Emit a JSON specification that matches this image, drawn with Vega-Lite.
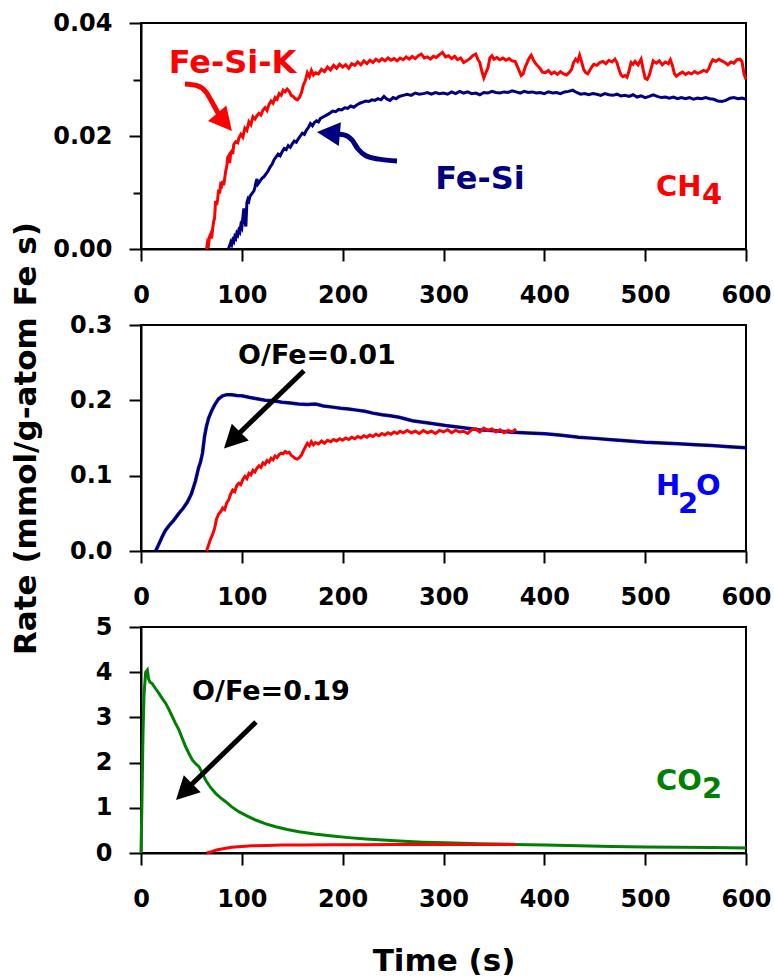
{
"$schema": "https://vega.github.io/schema/vega-lite/v6.json",
"background": "white",
"padding": {"left": 9, "top": 10, "right": 2, "bottom": 0},
"bounds": "flush",
"spacing": 76,
"config": {
  "font": "DejaVu Sans",
  "view": {"stroke": "black", "strokeWidth": 2},
  "axis": {"labelFont": "DejaVu Sans", "labelFontSize": 24, "labelFontWeight": "bold", "labelColor": "black",
           "titleFont": "DejaVu Sans", "titleFontSize": 31, "titleFontWeight": "bold", "titleColor": "black",
           "domainColor": "black", "domainWidth": 2, "tickColor": "black", "tickWidth": 2, "tickSize": 12, "grid": false},
  "axisX": {"labelPadding": 22, "labelFlush": false, "labelOverlap": false},
  "axisY": {"labelPadding": 17, "labelOverlap": false}
},
"datasets": {
  "ch4": [
    {"s":"FeSiK","t":65,"rate":0},{"s":"FeSiK","t":66,"rate":0.0012},{"s":"FeSiK","t":67,"rate":0.0008},{"s":"FeSiK","t":68,"rate":0.0022},{"s":"FeSiK","t":69,"rate":0.0026},{"s":"FeSiK","t":70,"rate":0.0019},{"s":"FeSiK","t":71,"rate":0.0035},{"s":"FeSiK","t":72,"rate":0.0048},{"s":"FeSiK","t":73,"rate":0.0055},{"s":"FeSiK","t":74,"rate":0.0085},{"s":"FeSiK","t":75,"rate":0.0078},{"s":"FeSiK","t":76,"rate":0.0088},{"s":"FeSiK","t":77,"rate":0.0105},{"s":"FeSiK","t":78,"rate":0.0098},{"s":"FeSiK","t":79,"rate":0.0114},{"s":"FeSiK","t":80,"rate":0.0112},{"s":"FeSiK","t":81,"rate":0.012},{"s":"FeSiK","t":82,"rate":0.0113},{"s":"FeSiK","t":83,"rate":0.0125},{"s":"FeSiK","t":84,"rate":0.0138},{"s":"FeSiK","t":85,"rate":0.0145},{"s":"FeSiK","t":86,"rate":0.0162},{"s":"FeSiK","t":87,"rate":0.0165},{"s":"FeSiK","t":88,"rate":0.0152},{"s":"FeSiK","t":89,"rate":0.017},{"s":"FeSiK","t":90,"rate":0.0173},{"s":"FeSiK","t":91,"rate":0.0168},{"s":"FeSiK","t":92,"rate":0.0185},{"s":"FeSiK","t":94,"rate":0.019},{"s":"FeSiK","t":96,"rate":0.0188},{"s":"FeSiK","t":97,"rate":0.0196},{"s":"FeSiK","t":99,"rate":0.0203},{"s":"FeSiK","t":101,"rate":0.0198},{"s":"FeSiK","t":103,"rate":0.0214},{"s":"FeSiK","t":105,"rate":0.021},{"s":"FeSiK","t":107,"rate":0.0225},{"s":"FeSiK","t":109,"rate":0.022},{"s":"FeSiK","t":111,"rate":0.0234},{"s":"FeSiK","t":113,"rate":0.023},{"s":"FeSiK","t":115,"rate":0.0236},{"s":"FeSiK","t":117,"rate":0.024},{"s":"FeSiK","t":119,"rate":0.0237},{"s":"FeSiK","t":121,"rate":0.0246},{"s":"FeSiK","t":123,"rate":0.025},{"s":"FeSiK","t":125,"rate":0.0245},{"s":"FeSiK","t":127,"rate":0.0256},{"s":"FeSiK","t":129,"rate":0.0262},{"s":"FeSiK","t":131,"rate":0.0258},{"s":"FeSiK","t":133,"rate":0.0268},{"s":"FeSiK","t":135,"rate":0.0265},{"s":"FeSiK","t":137,"rate":0.0275},{"s":"FeSiK","t":139,"rate":0.0272},{"s":"FeSiK","t":141,"rate":0.0281},{"s":"FeSiK","t":143,"rate":0.0278},{"s":"FeSiK","t":145,"rate":0.0283},{"s":"FeSiK","t":147,"rate":0.0279},{"s":"FeSiK","t":149,"rate":0.0272},{"s":"FeSiK","t":151,"rate":0.027},{"s":"FeSiK","t":153,"rate":0.0266},{"s":"FeSiK","t":155,"rate":0.0264},{"s":"FeSiK","t":157,"rate":0.0268},{"s":"FeSiK","t":159,"rate":0.0276},{"s":"FeSiK","t":161,"rate":0.029},{"s":"FeSiK","t":163,"rate":0.0298},{"s":"FeSiK","t":165,"rate":0.0312},{"s":"FeSiK","t":167,"rate":0.0305},{"s":"FeSiK","t":169,"rate":0.0316},{"s":"FeSiK","t":171,"rate":0.0308},{"s":"FeSiK","t":173,"rate":0.0312},{"s":"FeSiK","t":176,"rate":0.031},{"s":"FeSiK","t":179,"rate":0.0318},{"s":"FeSiK","t":182,"rate":0.0314},{"s":"FeSiK","t":185,"rate":0.0322},{"s":"FeSiK","t":188,"rate":0.0317},{"s":"FeSiK","t":191,"rate":0.0325},{"s":"FeSiK","t":194,"rate":0.032},{"s":"FeSiK","t":197,"rate":0.0327},{"s":"FeSiK","t":200,"rate":0.0322},{"s":"FeSiK","t":203,"rate":0.0326},{"s":"FeSiK","t":206,"rate":0.032},{"s":"FeSiK","t":209,"rate":0.0328},{"s":"FeSiK","t":212,"rate":0.0325},{"s":"FeSiK","t":215,"rate":0.0331},{"s":"FeSiK","t":218,"rate":0.0326},{"s":"FeSiK","t":221,"rate":0.0333},{"s":"FeSiK","t":224,"rate":0.0328},{"s":"FeSiK","t":227,"rate":0.0334},{"s":"FeSiK","t":230,"rate":0.033},{"s":"FeSiK","t":233,"rate":0.0336},{"s":"FeSiK","t":236,"rate":0.0332},{"s":"FeSiK","t":239,"rate":0.0337},{"s":"FeSiK","t":242,"rate":0.0333},{"s":"FeSiK","t":245,"rate":0.0338},{"s":"FeSiK","t":248,"rate":0.0334},{"s":"FeSiK","t":251,"rate":0.0337},{"s":"FeSiK","t":254,"rate":0.0333},{"s":"FeSiK","t":257,"rate":0.0338},{"s":"FeSiK","t":260,"rate":0.0335},{"s":"FeSiK","t":263,"rate":0.034},{"s":"FeSiK","t":266,"rate":0.0336},{"s":"FeSiK","t":269,"rate":0.0341},{"s":"FeSiK","t":272,"rate":0.0337},{"s":"FeSiK","t":275,"rate":0.0342},{"s":"FeSiK","t":278,"rate":0.0345},{"s":"FeSiK","t":281,"rate":0.0338},{"s":"FeSiK","t":284,"rate":0.034},{"s":"FeSiK","t":287,"rate":0.0336},{"s":"FeSiK","t":290,"rate":0.0341},{"s":"FeSiK","t":293,"rate":0.0339},{"s":"FeSiK","t":296,"rate":0.0344},{"s":"FeSiK","t":299,"rate":0.0348},{"s":"FeSiK","t":302,"rate":0.034},{"s":"FeSiK","t":305,"rate":0.0342},{"s":"FeSiK","t":308,"rate":0.0337},{"s":"FeSiK","t":311,"rate":0.0341},{"s":"FeSiK","t":314,"rate":0.0335},{"s":"FeSiK","t":317,"rate":0.0338},{"s":"FeSiK","t":320,"rate":0.033},{"s":"FeSiK","t":323,"rate":0.0333},{"s":"FeSiK","t":326,"rate":0.0337},{"s":"FeSiK","t":329,"rate":0.0342},{"s":"FeSiK","t":332,"rate":0.0345},{"s":"FeSiK","t":334,"rate":0.0336},{"s":"FeSiK","t":336,"rate":0.033},{"s":"FeSiK","t":338,"rate":0.0315},{"s":"FeSiK","t":340,"rate":0.0303},{"s":"FeSiK","t":342,"rate":0.0312},{"s":"FeSiK","t":344,"rate":0.032},{"s":"FeSiK","t":346,"rate":0.0338},{"s":"FeSiK","t":348,"rate":0.0342},{"s":"FeSiK","t":350,"rate":0.0336},{"s":"FeSiK","t":353,"rate":0.0339},{"s":"FeSiK","t":356,"rate":0.0335},{"s":"FeSiK","t":359,"rate":0.0338},{"s":"FeSiK","t":362,"rate":0.0334},{"s":"FeSiK","t":365,"rate":0.0337},{"s":"FeSiK","t":368,"rate":0.0333},{"s":"FeSiK","t":371,"rate":0.0332},{"s":"FeSiK","t":374,"rate":0.032},{"s":"FeSiK","t":377,"rate":0.0307},{"s":"FeSiK","t":379,"rate":0.031},{"s":"FeSiK","t":381,"rate":0.0322},{"s":"FeSiK","t":383,"rate":0.033},{"s":"FeSiK","t":385,"rate":0.0338},{"s":"FeSiK","t":387,"rate":0.0343},{"s":"FeSiK","t":389,"rate":0.0335},{"s":"FeSiK","t":391,"rate":0.0329},{"s":"FeSiK","t":393,"rate":0.0325},{"s":"FeSiK","t":396,"rate":0.0319},{"s":"FeSiK","t":398,"rate":0.0313},{"s":"FeSiK","t":401,"rate":0.0312},{"s":"FeSiK","t":404,"rate":0.0316},{"s":"FeSiK","t":407,"rate":0.031},{"s":"FeSiK","t":410,"rate":0.0313},{"s":"FeSiK","t":413,"rate":0.0309},{"s":"FeSiK","t":416,"rate":0.0314},{"s":"FeSiK","t":419,"rate":0.031},{"s":"FeSiK","t":422,"rate":0.0308},{"s":"FeSiK","t":425,"rate":0.0313},{"s":"FeSiK","t":427,"rate":0.0318},{"s":"FeSiK","t":429,"rate":0.033},{"s":"FeSiK","t":431,"rate":0.0336},{"s":"FeSiK","t":433,"rate":0.0332},{"s":"FeSiK","t":435,"rate":0.0343},{"s":"FeSiK","t":437,"rate":0.0331},{"s":"FeSiK","t":439,"rate":0.0318},{"s":"FeSiK","t":441,"rate":0.0312},{"s":"FeSiK","t":443,"rate":0.031},{"s":"FeSiK","t":445,"rate":0.0316},{"s":"FeSiK","t":447,"rate":0.0322},{"s":"FeSiK","t":449,"rate":0.0327},{"s":"FeSiK","t":452,"rate":0.0325},{"s":"FeSiK","t":455,"rate":0.033},{"s":"FeSiK","t":458,"rate":0.0332},{"s":"FeSiK","t":461,"rate":0.0328},{"s":"FeSiK","t":464,"rate":0.0334},{"s":"FeSiK","t":467,"rate":0.0331},{"s":"FeSiK","t":470,"rate":0.0336},{"s":"FeSiK","t":472,"rate":0.033},{"s":"FeSiK","t":474,"rate":0.0318},{"s":"FeSiK","t":476,"rate":0.0308},{"s":"FeSiK","t":478,"rate":0.0305},{"s":"FeSiK","t":480,"rate":0.0307},{"s":"FeSiK","t":482,"rate":0.0304},{"s":"FeSiK","t":484,"rate":0.0315},{"s":"FeSiK","t":486,"rate":0.033},{"s":"FeSiK","t":488,"rate":0.0327},{"s":"FeSiK","t":490,"rate":0.0332},{"s":"FeSiK","t":493,"rate":0.0326},{"s":"FeSiK","t":496,"rate":0.0336},{"s":"FeSiK","t":498,"rate":0.0318},{"s":"FeSiK","t":500,"rate":0.0302},{"s":"FeSiK","t":502,"rate":0.03},{"s":"FeSiK","t":504,"rate":0.0307},{"s":"FeSiK","t":506,"rate":0.032},{"s":"FeSiK","t":508,"rate":0.0333},{"s":"FeSiK","t":511,"rate":0.0329},{"s":"FeSiK","t":514,"rate":0.0333},{"s":"FeSiK","t":517,"rate":0.0326},{"s":"FeSiK","t":520,"rate":0.0331},{"s":"FeSiK","t":523,"rate":0.0328},{"s":"FeSiK","t":525,"rate":0.0335},{"s":"FeSiK","t":527,"rate":0.0325},{"s":"FeSiK","t":529,"rate":0.031},{"s":"FeSiK","t":531,"rate":0.0306},{"s":"FeSiK","t":534,"rate":0.031},{"s":"FeSiK","t":537,"rate":0.0313},{"s":"FeSiK","t":540,"rate":0.0309},{"s":"FeSiK","t":543,"rate":0.0312},{"s":"FeSiK","t":546,"rate":0.031},{"s":"FeSiK","t":549,"rate":0.0314},{"s":"FeSiK","t":552,"rate":0.0311},{"s":"FeSiK","t":555,"rate":0.0313},{"s":"FeSiK","t":558,"rate":0.0316},{"s":"FeSiK","t":561,"rate":0.0314},{"s":"FeSiK","t":563,"rate":0.0319},{"s":"FeSiK","t":565,"rate":0.0328},{"s":"FeSiK","t":567,"rate":0.0335},{"s":"FeSiK","t":570,"rate":0.0332},{"s":"FeSiK","t":573,"rate":0.0336},{"s":"FeSiK","t":576,"rate":0.0333},{"s":"FeSiK","t":579,"rate":0.033},{"s":"FeSiK","t":582,"rate":0.0326},{"s":"FeSiK","t":585,"rate":0.0331},{"s":"FeSiK","t":588,"rate":0.0329},{"s":"FeSiK","t":591,"rate":0.0335},{"s":"FeSiK","t":594,"rate":0.0336},{"s":"FeSiK","t":596,"rate":0.0332},{"s":"FeSiK","t":598,"rate":0.031},{"s":"FeSiK","t":600,"rate":0.03},
    {"s":"FeSi","t":86.6,"rate":0},{"s":"FeSi","t":88,"rate":0.0006},{"s":"FeSi","t":89,"rate":0.0012},{"s":"FeSi","t":90,"rate":0.0008},{"s":"FeSi","t":91,"rate":0.0016},{"s":"FeSi","t":92,"rate":0.0013},{"s":"FeSi","t":93,"rate":0.0022},{"s":"FeSi","t":94,"rate":0.0019},{"s":"FeSi","t":95,"rate":0.0028},{"s":"FeSi","t":96,"rate":0.0025},{"s":"FeSi","t":97,"rate":0.0033},{"s":"FeSi","t":98,"rate":0.003},{"s":"FeSi","t":99,"rate":0.0042},{"s":"FeSi","t":100,"rate":0.0038},{"s":"FeSi","t":101,"rate":0.0055},{"s":"FeSi","t":102,"rate":0.0072},{"s":"FeSi","t":103,"rate":0.0048},{"s":"FeSi","t":104,"rate":0.004},{"s":"FeSi","t":105,"rate":0.0082},{"s":"FeSi","t":106,"rate":0.0088},{"s":"FeSi","t":107,"rate":0.0085},{"s":"FeSi","t":108,"rate":0.0093},{"s":"FeSi","t":110,"rate":0.0098},{"s":"FeSi","t":112,"rate":0.0103},{"s":"FeSi","t":113,"rate":0.0109},{"s":"FeSi","t":114,"rate":0.0118},{"s":"FeSi","t":115,"rate":0.0124},{"s":"FeSi","t":116,"rate":0.0115},{"s":"FeSi","t":118,"rate":0.012},{"s":"FeSi","t":120,"rate":0.0125},{"s":"FeSi","t":122,"rate":0.0128},{"s":"FeSi","t":124,"rate":0.0133},{"s":"FeSi","t":126,"rate":0.0138},{"s":"FeSi","t":128,"rate":0.0145},{"s":"FeSi","t":130,"rate":0.015},{"s":"FeSi","t":132,"rate":0.0158},{"s":"FeSi","t":134,"rate":0.0163},{"s":"FeSi","t":136,"rate":0.0168},{"s":"FeSi","t":138,"rate":0.0165},{"s":"FeSi","t":140,"rate":0.0172},{"s":"FeSi","t":142,"rate":0.0178},{"s":"FeSi","t":144,"rate":0.0176},{"s":"FeSi","t":146,"rate":0.0183},{"s":"FeSi","t":148,"rate":0.018},{"s":"FeSi","t":150,"rate":0.0186},{"s":"FeSi","t":152,"rate":0.0191},{"s":"FeSi","t":154,"rate":0.0189},{"s":"FeSi","t":156,"rate":0.0195},{"s":"FeSi","t":158,"rate":0.02},{"s":"FeSi","t":160,"rate":0.0205},{"s":"FeSi","t":162,"rate":0.0203},{"s":"FeSi","t":164,"rate":0.021},{"s":"FeSi","t":166,"rate":0.0215},{"s":"FeSi","t":168,"rate":0.0222},{"s":"FeSi","t":170,"rate":0.0218},{"s":"FeSi","t":172,"rate":0.0224},{"s":"FeSi","t":174,"rate":0.0227},{"s":"FeSi","t":176,"rate":0.0225},{"s":"FeSi","t":178,"rate":0.0231},{"s":"FeSi","t":181,"rate":0.0234},{"s":"FeSi","t":184,"rate":0.0237},{"s":"FeSi","t":187,"rate":0.024},{"s":"FeSi","t":190,"rate":0.0244},{"s":"FeSi","t":193,"rate":0.0243},{"s":"FeSi","t":196,"rate":0.0247},{"s":"FeSi","t":199,"rate":0.0246},{"s":"FeSi","t":202,"rate":0.025},{"s":"FeSi","t":205,"rate":0.0249},{"s":"FeSi","t":208,"rate":0.0253},{"s":"FeSi","t":211,"rate":0.0251},{"s":"FeSi","t":214,"rate":0.0255},{"s":"FeSi","t":217,"rate":0.0258},{"s":"FeSi","t":220,"rate":0.026},{"s":"FeSi","t":223,"rate":0.0262},{"s":"FeSi","t":226,"rate":0.0261},{"s":"FeSi","t":229,"rate":0.0264},{"s":"FeSi","t":232,"rate":0.0263},{"s":"FeSi","t":235,"rate":0.0266},{"s":"FeSi","t":238,"rate":0.0264},{"s":"FeSi","t":241,"rate":0.027},{"s":"FeSi","t":244,"rate":0.0265},{"s":"FeSi","t":247,"rate":0.0263},{"s":"FeSi","t":250,"rate":0.0268},{"s":"FeSi","t":253,"rate":0.0266},{"s":"FeSi","t":256,"rate":0.027},{"s":"FeSi","t":260,"rate":0.0272},{"s":"FeSi","t":264,"rate":0.0274},{"s":"FeSi","t":268,"rate":0.0272},{"s":"FeSi","t":272,"rate":0.0276},{"s":"FeSi","t":276,"rate":0.0274},{"s":"FeSi","t":280,"rate":0.0275},{"s":"FeSi","t":284,"rate":0.0277},{"s":"FeSi","t":288,"rate":0.0274},{"s":"FeSi","t":292,"rate":0.0277},{"s":"FeSi","t":296,"rate":0.0275},{"s":"FeSi","t":300,"rate":0.0276},{"s":"FeSi","t":304,"rate":0.0274},{"s":"FeSi","t":308,"rate":0.0278},{"s":"FeSi","t":312,"rate":0.0275},{"s":"FeSi","t":316,"rate":0.0279},{"s":"FeSi","t":320,"rate":0.0276},{"s":"FeSi","t":324,"rate":0.0278},{"s":"FeSi","t":328,"rate":0.0275},{"s":"FeSi","t":332,"rate":0.0276},{"s":"FeSi","t":336,"rate":0.0273},{"s":"FeSi","t":340,"rate":0.0277},{"s":"FeSi","t":344,"rate":0.0276},{"s":"FeSi","t":348,"rate":0.0279},{"s":"FeSi","t":352,"rate":0.0277},{"s":"FeSi","t":356,"rate":0.0276},{"s":"FeSi","t":360,"rate":0.0278},{"s":"FeSi","t":364,"rate":0.0277},{"s":"FeSi","t":368,"rate":0.028},{"s":"FeSi","t":372,"rate":0.0278},{"s":"FeSi","t":376,"rate":0.0276},{"s":"FeSi","t":380,"rate":0.0279},{"s":"FeSi","t":384,"rate":0.0277},{"s":"FeSi","t":388,"rate":0.0278},{"s":"FeSi","t":392,"rate":0.0276},{"s":"FeSi","t":396,"rate":0.0277},{"s":"FeSi","t":400,"rate":0.0275},{"s":"FeSi","t":404,"rate":0.0278},{"s":"FeSi","t":408,"rate":0.0276},{"s":"FeSi","t":412,"rate":0.0277},{"s":"FeSi","t":416,"rate":0.0275},{"s":"FeSi","t":420,"rate":0.0278},{"s":"FeSi","t":424,"rate":0.0279},{"s":"FeSi","t":428,"rate":0.0281},{"s":"FeSi","t":432,"rate":0.0277},{"s":"FeSi","t":436,"rate":0.0274},{"s":"FeSi","t":440,"rate":0.0275},{"s":"FeSi","t":444,"rate":0.0273},{"s":"FeSi","t":448,"rate":0.0275},{"s":"FeSi","t":452,"rate":0.0274},{"s":"FeSi","t":456,"rate":0.0272},{"s":"FeSi","t":460,"rate":0.0275},{"s":"FeSi","t":464,"rate":0.0273},{"s":"FeSi","t":468,"rate":0.0272},{"s":"FeSi","t":472,"rate":0.0274},{"s":"FeSi","t":476,"rate":0.0271},{"s":"FeSi","t":480,"rate":0.0272},{"s":"FeSi","t":484,"rate":0.027},{"s":"FeSi","t":488,"rate":0.0273},{"s":"FeSi","t":492,"rate":0.0269},{"s":"FeSi","t":496,"rate":0.0271},{"s":"FeSi","t":500,"rate":0.0268},{"s":"FeSi","t":504,"rate":0.027},{"s":"FeSi","t":508,"rate":0.0273},{"s":"FeSi","t":512,"rate":0.027},{"s":"FeSi","t":516,"rate":0.0268},{"s":"FeSi","t":520,"rate":0.0269},{"s":"FeSi","t":524,"rate":0.0267},{"s":"FeSi","t":528,"rate":0.0269},{"s":"FeSi","t":532,"rate":0.0266},{"s":"FeSi","t":536,"rate":0.0268},{"s":"FeSi","t":540,"rate":0.0266},{"s":"FeSi","t":544,"rate":0.0268},{"s":"FeSi","t":548,"rate":0.0265},{"s":"FeSi","t":552,"rate":0.0267},{"s":"FeSi","t":556,"rate":0.0266},{"s":"FeSi","t":560,"rate":0.0268},{"s":"FeSi","t":564,"rate":0.0266},{"s":"FeSi","t":568,"rate":0.0265},{"s":"FeSi","t":572,"rate":0.0262},{"s":"FeSi","t":576,"rate":0.0261},{"s":"FeSi","t":580,"rate":0.0263},{"s":"FeSi","t":584,"rate":0.0267},{"s":"FeSi","t":588,"rate":0.0268},{"s":"FeSi","t":592,"rate":0.0266},{"s":"FeSi","t":596,"rate":0.0267},{"s":"FeSi","t":600,"rate":0.0265}
  ],
  "h2o": [
    {"s":"FeSi","t":14.5,"rate":0},{"s":"FeSi","t":18,"rate":0.01},{"s":"FeSi","t":21,"rate":0.019},{"s":"FeSi","t":24,"rate":0.027},{"s":"FeSi","t":28,"rate":0.034},{"s":"FeSi","t":32,"rate":0.04},{"s":"FeSi","t":37,"rate":0.049},{"s":"FeSi","t":42,"rate":0.057},{"s":"FeSi","t":46,"rate":0.065},{"s":"FeSi","t":50,"rate":0.076},{"s":"FeSi","t":54,"rate":0.093},{"s":"FeSi","t":57,"rate":0.11},{"s":"FeSi","t":59,"rate":0.118},{"s":"FeSi","t":61,"rate":0.13},{"s":"FeSi","t":63,"rate":0.152},{"s":"FeSi","t":65,"rate":0.166},{"s":"FeSi","t":67,"rate":0.176},{"s":"FeSi","t":70,"rate":0.186},{"s":"FeSi","t":73,"rate":0.194},{"s":"FeSi","t":77,"rate":0.202},{"s":"FeSi","t":81,"rate":0.206},{"s":"FeSi","t":85,"rate":0.2075},{"s":"FeSi","t":90,"rate":0.2075},{"s":"FeSi","t":95,"rate":0.2065},{"s":"FeSi","t":100,"rate":0.206},{"s":"FeSi","t":107,"rate":0.204},{"s":"FeSi","t":115,"rate":0.202},{"s":"FeSi","t":123,"rate":0.2},{"s":"FeSi","t":131,"rate":0.1995},{"s":"FeSi","t":140,"rate":0.1975},{"s":"FeSi","t":148,"rate":0.1965},{"s":"FeSi","t":156,"rate":0.195},{"s":"FeSi","t":165,"rate":0.1945},{"s":"FeSi","t":173,"rate":0.195},{"s":"FeSi","t":181,"rate":0.1925},{"s":"FeSi","t":190,"rate":0.191},{"s":"FeSi","t":198,"rate":0.1895},{"s":"FeSi","t":206,"rate":0.1886},{"s":"FeSi","t":214,"rate":0.187},{"s":"FeSi","t":222,"rate":0.1855},{"s":"FeSi","t":230,"rate":0.183},{"s":"FeSi","t":239,"rate":0.181},{"s":"FeSi","t":247,"rate":0.1795},{"s":"FeSi","t":256,"rate":0.1775},{"s":"FeSi","t":269,"rate":0.173},{"s":"FeSi","t":285,"rate":0.17},{"s":"FeSi","t":302,"rate":0.1666},{"s":"FeSi","t":318,"rate":0.164},{"s":"FeSi","t":335,"rate":0.161},{"s":"FeSi","t":351,"rate":0.1595},{"s":"FeSi","t":368,"rate":0.1577},{"s":"FeSi","t":384,"rate":0.1565},{"s":"FeSi","t":401,"rate":0.1556},{"s":"FeSi","t":417,"rate":0.1535},{"s":"FeSi","t":434,"rate":0.151},{"s":"FeSi","t":450,"rate":0.1495},{"s":"FeSi","t":467,"rate":0.1477},{"s":"FeSi","t":484,"rate":0.146},{"s":"FeSi","t":500,"rate":0.1445},{"s":"FeSi","t":517,"rate":0.1435},{"s":"FeSi","t":533,"rate":0.1424},{"s":"FeSi","t":550,"rate":0.141},{"s":"FeSi","t":566,"rate":0.14},{"s":"FeSi","t":583,"rate":0.1385},{"s":"FeSi","t":600,"rate":0.137},
    {"s":"FeSiK","t":65,"rate":0},{"s":"FeSiK","t":67,"rate":0.008},{"s":"FeSiK","t":69,"rate":0.016},{"s":"FeSiK","t":71,"rate":0.022},{"s":"FeSiK","t":73,"rate":0.03},{"s":"FeSiK","t":75,"rate":0.043},{"s":"FeSiK","t":77,"rate":0.049},{"s":"FeSiK","t":79,"rate":0.052},{"s":"FeSiK","t":81,"rate":0.057},{"s":"FeSiK","t":83,"rate":0.055},{"s":"FeSiK","t":85,"rate":0.064},{"s":"FeSiK","t":87,"rate":0.068},{"s":"FeSiK","t":89,"rate":0.076},{"s":"FeSiK","t":91,"rate":0.081},{"s":"FeSiK","t":93,"rate":0.079},{"s":"FeSiK","t":95,"rate":0.087},{"s":"FeSiK","t":97,"rate":0.09},{"s":"FeSiK","t":99,"rate":0.088},{"s":"FeSiK","t":101,"rate":0.095},{"s":"FeSiK","t":103,"rate":0.099},{"s":"FeSiK","t":105,"rate":0.096},{"s":"FeSiK","t":107,"rate":0.103},{"s":"FeSiK","t":109,"rate":0.101},{"s":"FeSiK","t":111,"rate":0.107},{"s":"FeSiK","t":113,"rate":0.105},{"s":"FeSiK","t":115,"rate":0.11},{"s":"FeSiK","t":117,"rate":0.113},{"s":"FeSiK","t":119,"rate":0.111},{"s":"FeSiK","t":121,"rate":0.117},{"s":"FeSiK","t":123,"rate":0.115},{"s":"FeSiK","t":125,"rate":0.12},{"s":"FeSiK","t":127,"rate":0.118},{"s":"FeSiK","t":129,"rate":0.123},{"s":"FeSiK","t":131,"rate":0.121},{"s":"FeSiK","t":133,"rate":0.126},{"s":"FeSiK","t":135,"rate":0.124},{"s":"FeSiK","t":137,"rate":0.128},{"s":"FeSiK","t":139,"rate":0.13},{"s":"FeSiK","t":141,"rate":0.129},{"s":"FeSiK","t":143,"rate":0.132},{"s":"FeSiK","t":145,"rate":0.13},{"s":"FeSiK","t":147,"rate":0.131},{"s":"FeSiK","t":149,"rate":0.127},{"s":"FeSiK","t":151,"rate":0.125},{"s":"FeSiK","t":153,"rate":0.123},{"s":"FeSiK","t":155,"rate":0.122},{"s":"FeSiK","t":157,"rate":0.124},{"s":"FeSiK","t":159,"rate":0.127},{"s":"FeSiK","t":161,"rate":0.133},{"s":"FeSiK","t":163,"rate":0.138},{"s":"FeSiK","t":165,"rate":0.143},{"s":"FeSiK","t":167,"rate":0.14},{"s":"FeSiK","t":169,"rate":0.145},{"s":"FeSiK","t":171,"rate":0.141},{"s":"FeSiK","t":173,"rate":0.144},{"s":"FeSiK","t":176,"rate":0.142},{"s":"FeSiK","t":179,"rate":0.146},{"s":"FeSiK","t":182,"rate":0.143},{"s":"FeSiK","t":185,"rate":0.147},{"s":"FeSiK","t":188,"rate":0.145},{"s":"FeSiK","t":191,"rate":0.148},{"s":"FeSiK","t":194,"rate":0.146},{"s":"FeSiK","t":197,"rate":0.149},{"s":"FeSiK","t":200,"rate":0.147},{"s":"FeSiK","t":203,"rate":0.15},{"s":"FeSiK","t":206,"rate":0.148},{"s":"FeSiK","t":209,"rate":0.151},{"s":"FeSiK","t":212,"rate":0.149},{"s":"FeSiK","t":215,"rate":0.152},{"s":"FeSiK","t":218,"rate":0.15},{"s":"FeSiK","t":221,"rate":0.153},{"s":"FeSiK","t":224,"rate":0.151},{"s":"FeSiK","t":227,"rate":0.154},{"s":"FeSiK","t":230,"rate":0.152},{"s":"FeSiK","t":233,"rate":0.155},{"s":"FeSiK","t":236,"rate":0.153},{"s":"FeSiK","t":239,"rate":0.156},{"s":"FeSiK","t":242,"rate":0.154},{"s":"FeSiK","t":245,"rate":0.157},{"s":"FeSiK","t":248,"rate":0.155},{"s":"FeSiK","t":251,"rate":0.158},{"s":"FeSiK","t":254,"rate":0.156},{"s":"FeSiK","t":257,"rate":0.159},{"s":"FeSiK","t":260,"rate":0.157},{"s":"FeSiK","t":264,"rate":0.16},{"s":"FeSiK","t":268,"rate":0.157},{"s":"FeSiK","t":272,"rate":0.159},{"s":"FeSiK","t":276,"rate":0.156},{"s":"FeSiK","t":280,"rate":0.16},{"s":"FeSiK","t":284,"rate":0.157},{"s":"FeSiK","t":288,"rate":0.159},{"s":"FeSiK","t":292,"rate":0.156},{"s":"FeSiK","t":296,"rate":0.16},{"s":"FeSiK","t":300,"rate":0.158},{"s":"FeSiK","t":304,"rate":0.161},{"s":"FeSiK","t":308,"rate":0.157},{"s":"FeSiK","t":312,"rate":0.16},{"s":"FeSiK","t":316,"rate":0.158},{"s":"FeSiK","t":320,"rate":0.159},{"s":"FeSiK","t":324,"rate":0.156},{"s":"FeSiK","t":328,"rate":0.161},{"s":"FeSiK","t":332,"rate":0.162},{"s":"FeSiK","t":336,"rate":0.158},{"s":"FeSiK","t":340,"rate":0.163},{"s":"FeSiK","t":344,"rate":0.16},{"s":"FeSiK","t":348,"rate":0.162},{"s":"FeSiK","t":352,"rate":0.158},{"s":"FeSiK","t":356,"rate":0.161},{"s":"FeSiK","t":360,"rate":0.157},{"s":"FeSiK","t":364,"rate":0.16},{"s":"FeSiK","t":368,"rate":0.158},{"s":"FeSiK","t":372,"rate":0.162}
  ],
  "co2": [
    {"s":"FeSi","t":0,"rate":0},{"s":"FeSi","t":1,"rate":1.2},{"s":"FeSi","t":2,"rate":2.65},{"s":"FeSi","t":3,"rate":3.5},{"s":"FeSi","t":4.6,"rate":4.0},{"s":"FeSi","t":6.3,"rate":4.05},{"s":"FeSi","t":7.5,"rate":3.85},{"s":"FeSi","t":9,"rate":3.78},{"s":"FeSi","t":11,"rate":3.75},{"s":"FeSi","t":14,"rate":3.65},{"s":"FeSi","t":17.8,"rate":3.53},{"s":"FeSi","t":21,"rate":3.42},{"s":"FeSi","t":24.5,"rate":3.31},{"s":"FeSi","t":28,"rate":3.16},{"s":"FeSi","t":31,"rate":3.02},{"s":"FeSi","t":34,"rate":2.88},{"s":"FeSi","t":37.7,"rate":2.72},{"s":"FeSi","t":41,"rate":2.53},{"s":"FeSi","t":44.3,"rate":2.35},{"s":"FeSi","t":48,"rate":2.18},{"s":"FeSi","t":50.9,"rate":2.06},{"s":"FeSi","t":54,"rate":1.98},{"s":"FeSi","t":57.5,"rate":1.91},{"s":"FeSi","t":61,"rate":1.76},{"s":"FeSi","t":64.2,"rate":1.61},{"s":"FeSi","t":69,"rate":1.45},{"s":"FeSi","t":74,"rate":1.32},{"s":"FeSi","t":79,"rate":1.22},{"s":"FeSi","t":84,"rate":1.135},{"s":"FeSi","t":90,"rate":1.02},{"s":"FeSi","t":97,"rate":0.914},{"s":"FeSi","t":105,"rate":0.82},{"s":"FeSi","t":113.7,"rate":0.73},{"s":"FeSi","t":123,"rate":0.65},{"s":"FeSi","t":133.6,"rate":0.58},{"s":"FeSi","t":145,"rate":0.52},{"s":"FeSi","t":156.7,"rate":0.47},{"s":"FeSi","t":172,"rate":0.42},{"s":"FeSi","t":189.7,"rate":0.376},{"s":"FeSi","t":206,"rate":0.34},{"s":"FeSi","t":222.8,"rate":0.31},{"s":"FeSi","t":240,"rate":0.285},{"s":"FeSi","t":256,"rate":0.265},{"s":"FeSi","t":280,"rate":0.24},{"s":"FeSi","t":302,"rate":0.225},{"s":"FeSi","t":335,"rate":0.205},{"s":"FeSi","t":368,"rate":0.19},{"s":"FeSi","t":401,"rate":0.175},{"s":"FeSi","t":434,"rate":0.16},{"s":"FeSi","t":467,"rate":0.145},{"s":"FeSi","t":500,"rate":0.135},{"s":"FeSi","t":533,"rate":0.127},{"s":"FeSi","t":566,"rate":0.12},{"s":"FeSi","t":600,"rate":0.11},
    {"s":"FeSiK","t":65,"rate":0},{"s":"FeSiK","t":70,"rate":0.03},{"s":"FeSiK","t":75,"rate":0.065},{"s":"FeSiK","t":80,"rate":0.09},{"s":"FeSiK","t":90,"rate":0.125},{"s":"FeSiK","t":100,"rate":0.145},{"s":"FeSiK","t":110,"rate":0.158},{"s":"FeSiK","t":125,"rate":0.167},{"s":"FeSiK","t":140,"rate":0.175},{"s":"FeSiK","t":160,"rate":0.178},{"s":"FeSiK","t":190,"rate":0.182},{"s":"FeSiK","t":220,"rate":0.185},{"s":"FeSiK","t":250,"rate":0.188},{"s":"FeSiK","t":280,"rate":0.19},{"s":"FeSiK","t":310,"rate":0.19},{"s":"FeSiK","t":340,"rate":0.188},{"s":"FeSiK","t":372,"rate":0.19}
  ],
  "arrows": [
    {"p":1,"id":"a1","cat":"FeSiK","o":1,"t":43.6,"rate":0.0292},{"p":1,"id":"a1","cat":"FeSiK","o":2,"t":55.5,"rate":0.0289},{"p":1,"id":"a1","cat":"FeSiK","o":3,"t":64.5,"rate":0.0278},{"p":1,"id":"a1","cat":"FeSiK","o":4,"t":70.4,"rate":0.026},{"p":1,"id":"a1","cat":"FeSiK","o":5,"t":78.3,"rate":0.0234},
    {"p":1,"id":"a2","cat":"FeSi","o":1,"t":253.9,"rate":0.01558},{"p":1,"id":"a2","cat":"FeSi","o":2,"t":236,"rate":0.0159},{"p":1,"id":"a2","cat":"FeSi","o":3,"t":223.1,"rate":0.0165},{"p":1,"id":"a2","cat":"FeSi","o":4,"t":215.2,"rate":0.0177},{"p":1,"id":"a2","cat":"FeSi","o":5,"t":209.2,"rate":0.0193},{"p":1,"id":"a2","cat":"FeSi","o":6,"t":201.3,"rate":0.0202},{"p":1,"id":"a2","cat":"FeSi","o":7,"t":192.4,"rate":0.0204},
    {"p":2,"id":"a3","cat":"note","o":1,"t":161.6,"rate":0.2393},{"p":2,"id":"a3","cat":"note","o":2,"t":94.9,"rate":0.153},
    {"p":3,"id":"a4","cat":"note","o":1,"t":114,"rate":2.898},{"p":3,"id":"a4","cat":"note","o":2,"t":47.3,"rate":1.453}
  ],
  "heads": [
    {"p":1,"cat":"FeSiK","t":90.2,"rate":0.0209,"ang":140},
    {"p":1,"cat":"FeSi","t":174.5,"rate":0.0207,"ang":275},
    {"p":2,"cat":"note","t":82.3,"rate":0.1362,"ang":225},
    {"p":3,"cat":"note","t":34.7,"rate":1.172,"ang":225}
  ],
  "labels": [
    {"p":1,"k":"big","cat":"FeSiK","txt":"Fe-Si-K","t":90.7,"rate":0.03115},
    {"p":1,"k":"big","cat":"FeSi","txt":"Fe-Si","t":336.2,"rate":0.01062},
    {"p":1,"k":"sp","cat":"FeSiK","txt":"CH","t":510.7,"rate":0.00938},
    {"p":1,"k":"sp","cat":"FeSiK","txt":"4","t":556.3,"rate":0.00797},
    {"p":2,"k":"sp","cat":"H2O","txt":"H","t":510.7,"rate":0.074},
    {"p":2,"k":"sp","cat":"H2O","txt":"2","t":532.5,"rate":0.0502},
    {"p":2,"k":"sp","cat":"H2O","txt":"O","t":550.4,"rate":0.074},
    {"p":3,"k":"sp","cat":"CO2","txt":"CO","t":510.7,"rate":1.394},
    {"p":3,"k":"sp","cat":"CO2","txt":"2","t":556.3,"rate":1.217},
    {"p":2,"k":"note","cat":"note","txt":"O/Fe=0.01","t":174.5,"rate":0.2485},
    {"p":3,"k":"note","cat":"note","txt":"O/Fe=0.19","t":128.9,"rate":3.384}
  ]
},
"vconcat": [
  {
    "width": 605, "height": 226,
    "layer": [
      {"data": {"name": "ch4"}, "mark": {"type": "line", "strokeWidth": 3},
       "encoding": {
         "x": {"field": "t", "type": "quantitative", "scale": {"domain": [0, 600], "nice": false},
               "axis": {"values": [0,100,200,300,400,500,600], "format": "d", "title": null}},
         "y": {"field": "rate", "type": "quantitative", "scale": {"domain": [0, 0.04], "nice": false},
               "axis": {"values": [0,0.01,0.02,0.03,0.04], "title": null,
                        "labelExpr": "datum.value == 0.01 || datum.value == 0.03 ? '' : format(datum.value, '.2f')",
                        "tickSize": {"condition": {"test": "datum.value == 0.01 || datum.value == 0.03", "value": 8}, "value": 12}}},
         "color": {"field": "s", "type": "nominal", "legend": null,
                   "scale": {"domain": ["FeSiK","FeSi","H2O","CO2","note"], "range": ["#ff0000","#000080","#0000ff","#008000","#000000"]}}
       }},
      {"data": {"name": "arrows"}, "transform": [{"filter": "datum.p == 1"}],
       "mark": {"type": "line", "strokeWidth": 5, "interpolate": "monotone"},
       "encoding": {"x": {"field": "t", "type": "quantitative"}, "y": {"field": "rate", "type": "quantitative"},
                    "order": {"field": "o", "type": "quantitative"}, "detail": {"field": "id"},
                    "color": {"field": "cat", "type": "nominal", "legend": null}}},
      {"data": {"name": "heads"}, "transform": [{"filter": "datum.p == 1"}],
       "mark": {"type": "point", "shape": "M0,0L0.52,1L-0.52,1Z", "filled": true, "size": 2116, "opacity": 1, "strokeWidth": 0},
       "encoding": {"x": {"field": "t", "type": "quantitative"}, "y": {"field": "rate", "type": "quantitative"},
                    "angle": {"field": "ang", "type": "quantitative", "scale": null},
                    "color": {"field": "cat", "type": "nominal", "legend": null}}},
      {"data": {"name": "labels"}, "transform": [{"filter": "datum.p == 1 && datum.k == 'big'"}],
       "mark": {"type": "text", "font": "DejaVu Sans", "fontWeight": "bold", "fontSize": 32, "align": "center", "baseline": "alphabetic"},
       "encoding": {"x": {"field": "t", "type": "quantitative"}, "y": {"field": "rate", "type": "quantitative"},
                    "text": {"field": "txt"}, "color": {"field": "cat", "type": "nominal", "legend": null}}},
      {"data": {"name": "labels"}, "transform": [{"filter": "datum.p == 1 && datum.k == 'sp'"}],
       "mark": {"type": "text", "font": "DejaVu Sans", "fontWeight": "bold", "fontSize": 29, "align": "left", "baseline": "alphabetic"},
       "encoding": {"x": {"field": "t", "type": "quantitative"}, "y": {"field": "rate", "type": "quantitative"},
                    "text": {"field": "txt"}, "color": {"field": "cat", "type": "nominal", "legend": null}}}
    ]
  },
  {
    "width": 605, "height": 226,
    "layer": [
      {"data": {"name": "h2o"}, "transform": [{"filter": "datum.s == 'FeSi'"}],
       "mark": {"type": "line", "strokeWidth": 3.5, "color": "#0000ff"},
       "encoding": {
         "x": {"field": "t", "type": "quantitative", "scale": {"domain": [0, 600], "nice": false},
               "axis": {"values": [0,100,200,300,400,500,600], "format": "d", "title": null}},
         "y": {"field": "rate", "type": "quantitative", "scale": {"domain": [0, 0.3], "nice": false},
               "axis": {"values": [0,0.1,0.2,0.3], "format": ".1f", "title": "Rate (mmol/g-atom Fe s)", "titlePadding": 27}}
       }},
      {"data": {"name": "h2o"}, "transform": [{"filter": "datum.s == 'FeSi'"}],
       "mark": {"type": "line", "strokeWidth": 1.5, "color": "#000000"},
       "encoding": {"x": {"field": "t", "type": "quantitative"}, "y": {"field": "rate", "type": "quantitative"}}},
      {"data": {"name": "h2o"}, "transform": [{"filter": "datum.s == 'FeSiK'"}],
       "mark": {"type": "line", "strokeWidth": 3, "color": "#ff0000"},
       "encoding": {"x": {"field": "t", "type": "quantitative"}, "y": {"field": "rate", "type": "quantitative"}}},
      {"data": {"name": "arrows"}, "transform": [{"filter": "datum.p == 2"}],
       "mark": {"type": "line", "strokeWidth": 5},
       "encoding": {"x": {"field": "t", "type": "quantitative"}, "y": {"field": "rate", "type": "quantitative"},
                    "order": {"field": "o", "type": "quantitative"}, "detail": {"field": "id"},
                    "color": {"field": "cat", "type": "nominal", "legend": null,
                              "scale": {"domain": ["FeSiK","FeSi","H2O","CO2","note"], "range": ["#ff0000","#000080","#0000ff","#008000","#000000"]}}}},
      {"data": {"name": "heads"}, "transform": [{"filter": "datum.p == 2"}],
       "mark": {"type": "point", "shape": "M0,0L0.52,1L-0.52,1Z", "filled": true, "size": 2116, "opacity": 1, "strokeWidth": 0},
       "encoding": {"x": {"field": "t", "type": "quantitative"}, "y": {"field": "rate", "type": "quantitative"},
                    "angle": {"field": "ang", "type": "quantitative", "scale": null},
                    "color": {"field": "cat", "type": "nominal", "legend": null}}},
      {"data": {"name": "labels"}, "transform": [{"filter": "datum.p == 2 && datum.k == 'note'"}],
       "mark": {"type": "text", "font": "DejaVu Sans", "fontWeight": "bold", "fontSize": 27, "align": "center", "baseline": "alphabetic"},
       "encoding": {"x": {"field": "t", "type": "quantitative"}, "y": {"field": "rate", "type": "quantitative"},
                    "text": {"field": "txt"}, "color": {"field": "cat", "type": "nominal", "legend": null}}},
      {"data": {"name": "labels"}, "transform": [{"filter": "datum.p == 2 && datum.k == 'sp'"}],
       "mark": {"type": "text", "font": "DejaVu Sans", "fontWeight": "bold", "fontSize": 29, "align": "left", "baseline": "alphabetic"},
       "encoding": {"x": {"field": "t", "type": "quantitative"}, "y": {"field": "rate", "type": "quantitative"},
                    "text": {"field": "txt"}, "color": {"field": "cat", "type": "nominal", "legend": null}}}
    ]
  },
  {
    "width": 605, "height": 226,
    "layer": [
      {"data": {"name": "co2"}, "transform": [{"filter": "datum.s == 'FeSi'"}],
       "mark": {"type": "line", "strokeWidth": 3, "color": "#008000"},
       "encoding": {
         "x": {"field": "t", "type": "quantitative", "scale": {"domain": [0, 600], "nice": false},
               "axis": {"values": [0,100,200,300,400,500,600], "format": "d", "title": "Time (s)", "titlePadding": 35}},
         "y": {"field": "rate", "type": "quantitative", "scale": {"domain": [0, 5], "nice": false},
               "axis": {"values": [0,1,2,3,4,5], "format": "d", "title": null}}
       }},
      {"data": {"name": "co2"}, "transform": [{"filter": "datum.s == 'FeSiK'"}],
       "mark": {"type": "line", "strokeWidth": 3, "color": "#ff0000"},
       "encoding": {"x": {"field": "t", "type": "quantitative"}, "y": {"field": "rate", "type": "quantitative"}}},
      {"data": {"name": "arrows"}, "transform": [{"filter": "datum.p == 3"}],
       "mark": {"type": "line", "strokeWidth": 5},
       "encoding": {"x": {"field": "t", "type": "quantitative"}, "y": {"field": "rate", "type": "quantitative"},
                    "order": {"field": "o", "type": "quantitative"}, "detail": {"field": "id"},
                    "color": {"field": "cat", "type": "nominal", "legend": null,
                              "scale": {"domain": ["FeSiK","FeSi","H2O","CO2","note"], "range": ["#ff0000","#000080","#0000ff","#008000","#000000"]}}}},
      {"data": {"name": "heads"}, "transform": [{"filter": "datum.p == 3"}],
       "mark": {"type": "point", "shape": "M0,0L0.52,1L-0.52,1Z", "filled": true, "size": 2116, "opacity": 1, "strokeWidth": 0},
       "encoding": {"x": {"field": "t", "type": "quantitative"}, "y": {"field": "rate", "type": "quantitative"},
                    "angle": {"field": "ang", "type": "quantitative", "scale": null},
                    "color": {"field": "cat", "type": "nominal", "legend": null}}},
      {"data": {"name": "labels"}, "transform": [{"filter": "datum.p == 3 && datum.k == 'note'"}],
       "mark": {"type": "text", "font": "DejaVu Sans", "fontWeight": "bold", "fontSize": 27, "align": "center", "baseline": "alphabetic"},
       "encoding": {"x": {"field": "t", "type": "quantitative"}, "y": {"field": "rate", "type": "quantitative"},
                    "text": {"field": "txt"}, "color": {"field": "cat", "type": "nominal", "legend": null}}},
      {"data": {"name": "labels"}, "transform": [{"filter": "datum.p == 3 && datum.k == 'sp'"}],
       "mark": {"type": "text", "font": "DejaVu Sans", "fontWeight": "bold", "fontSize": 29, "align": "left", "baseline": "alphabetic"},
       "encoding": {"x": {"field": "t", "type": "quantitative"}, "y": {"field": "rate", "type": "quantitative"},
                    "text": {"field": "txt"}, "color": {"field": "cat", "type": "nominal", "legend": null}}}
    ]
  }
]
}
